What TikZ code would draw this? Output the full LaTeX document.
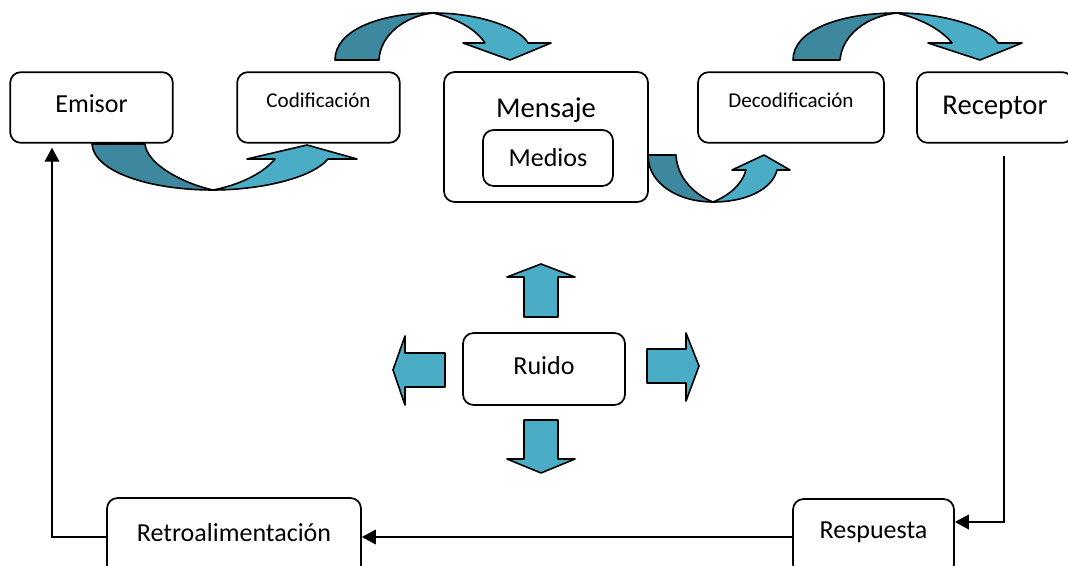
\documentclass[tikz,border=0pt]{standalone}
\usepackage{fontspec}
\setmainfont{Carlito}
\usetikzlibrary{arrows.meta}

\definecolor{tealdark}{HTML}{3D889E}
\definecolor{teallight}{HTML}{4BACC6}

\begin{document}
\begin{tikzpicture}[x=0.75pt, y=-0.75pt,
    box/.style={draw, rounded corners=8pt, line width=1.3pt, fill=white, align=center, font=\fontsize{19.5}{22}\selectfont},
    conn/.style={-{Triangle[length=10.5pt, width=11pt]}, line width=1.3pt},
    tail/.style={fill=tealdark, draw, line width=1.2pt, line join=round},
    front/.style={fill=teallight, draw, line width=1.2pt, line join=round}
]
\fill[white] (0,0) rectangle (1068,566);
\useasboundingbox (0,0) rectangle (1068,566);
\clip (0,0) rectangle (1068,566);

% main chain
\node[box, minimum width=122pt, minimum height=53pt, text depth=6pt] (emisor) at (91.5,107.5) {Emisor};
\node[box, minimum width=122pt, minimum height=53pt, text depth=11pt, font=\fontsize{15.8}{18}\selectfont] (codif) at (318.5,107.5) {Codificación};
\node[box, minimum width=153pt, minimum height=97.5pt, text depth=44pt, font=\fontsize{21.5}{24}\selectfont] (mensaje) at (546,137) {Mensaje};
\node[box, minimum width=97.5pt, minimum height=42pt] (medios) at (548,158) {Medios};
\node[box, minimum width=139.5pt, minimum height=53pt, text depth=11pt, font=\fontsize{15.8}{18}\selectfont] (decod) at (791,107.5) {Decodificación};
\node[box, minimum width=117pt, minimum height=53pt, font=\fontsize{21.5}{24}\selectfont] (receptor) at (995,107.5) {Receptor};

% noise and feedback
\node[box, minimum width=121.5pt, minimum height=54pt, text depth=6pt] (ruido) at (544,369) {Ruido};
\node[box, minimum width=120.75pt, minimum height=57pt, text depth=10.5pt] (respuesta) at (873.5,537) {Respuesta};
\node[box, minimum width=190.5pt, minimum height=58.5pt, text depth=7.5pt] (retro) at (234,537) {Retroalimentación};

% curved arrows between the boxes
\draw[tail] (92,144) .. controls (94,172) and (150,190) .. (213,190)
    .. controls (185,184) and (147,165) .. (145,144) -- cycle;
\draw[front] (213,190) .. controls (255,190) and (310,180) .. (328,159)
    -- (357,159) -- (307,145) -- (247,159) -- (275,159)
    .. controls (262,175) and (235,186) .. (213,190) -- cycle;

\draw[tail] (335,60) .. controls (335,30) and (380,13) .. (433,13)
    .. controls (405,16) and (380,35) .. (379,60) -- cycle;
\draw[front] (433,13) .. controls (480,13) and (520,28) .. (528,43)
    -- (551,43) -- (510,60) -- (463,43) -- (485,43)
    .. controls (475,28) and (455,18) .. (433,13) -- cycle;

\draw[tail] (648,155) .. controls (648,185) and (680,202) .. (713,202)
    .. controls (695,195) and (677,178) .. (676,155) -- cycle;
\draw[front] (713,202) .. controls (745,202) and (772,190) .. (777,170)
    -- (790,170) -- (764,155) -- (732,170) -- (746,170)
    .. controls (742,185) and (728,196) .. (713,202) -- cycle;

\draw[tail] (793,60) .. controls (793,30) and (840,13) .. (897,13)
    .. controls (867,16) and (842,35) .. (840,60) -- cycle;
\draw[front] (897,13) .. controls (945,13) and (990,28) .. (998,43)
    -- (1022,43) -- (980,60) -- (928,43) -- (952,43)
    .. controls (940,28) and (918,18) .. (897,13) -- cycle;

% block arrows round the noise box
\draw[front] (524,317) -- (524,277) -- (507,277) -- (541,264) -- (575,277) -- (558,277) -- (558,317) -- cycle;
\draw[front] (524,420) -- (524,459) -- (507,459) -- (541,473) -- (575,459) -- (558,459) -- (558,420) -- cycle;
\draw[front] (445,353) -- (405,353) -- (405,336) -- (393,370) -- (405,405) -- (405,387) -- (445,387) -- cycle;
\draw[front] (647,349) -- (686,349) -- (686,333) -- (699,366) -- (686,401) -- (686,383) -- (647,383) -- cycle;

% feedback loop
\draw[conn] ([shift={(9,12)}]receptor.south) |- ([yshift=11.25pt]respuesta.east);
\draw[conn] (respuesta.west) -- (retro.east);
\draw[conn] (retro.west) -| ([shift={(-39.5,4)}]emisor.south);
\end{tikzpicture}
\end{document}
